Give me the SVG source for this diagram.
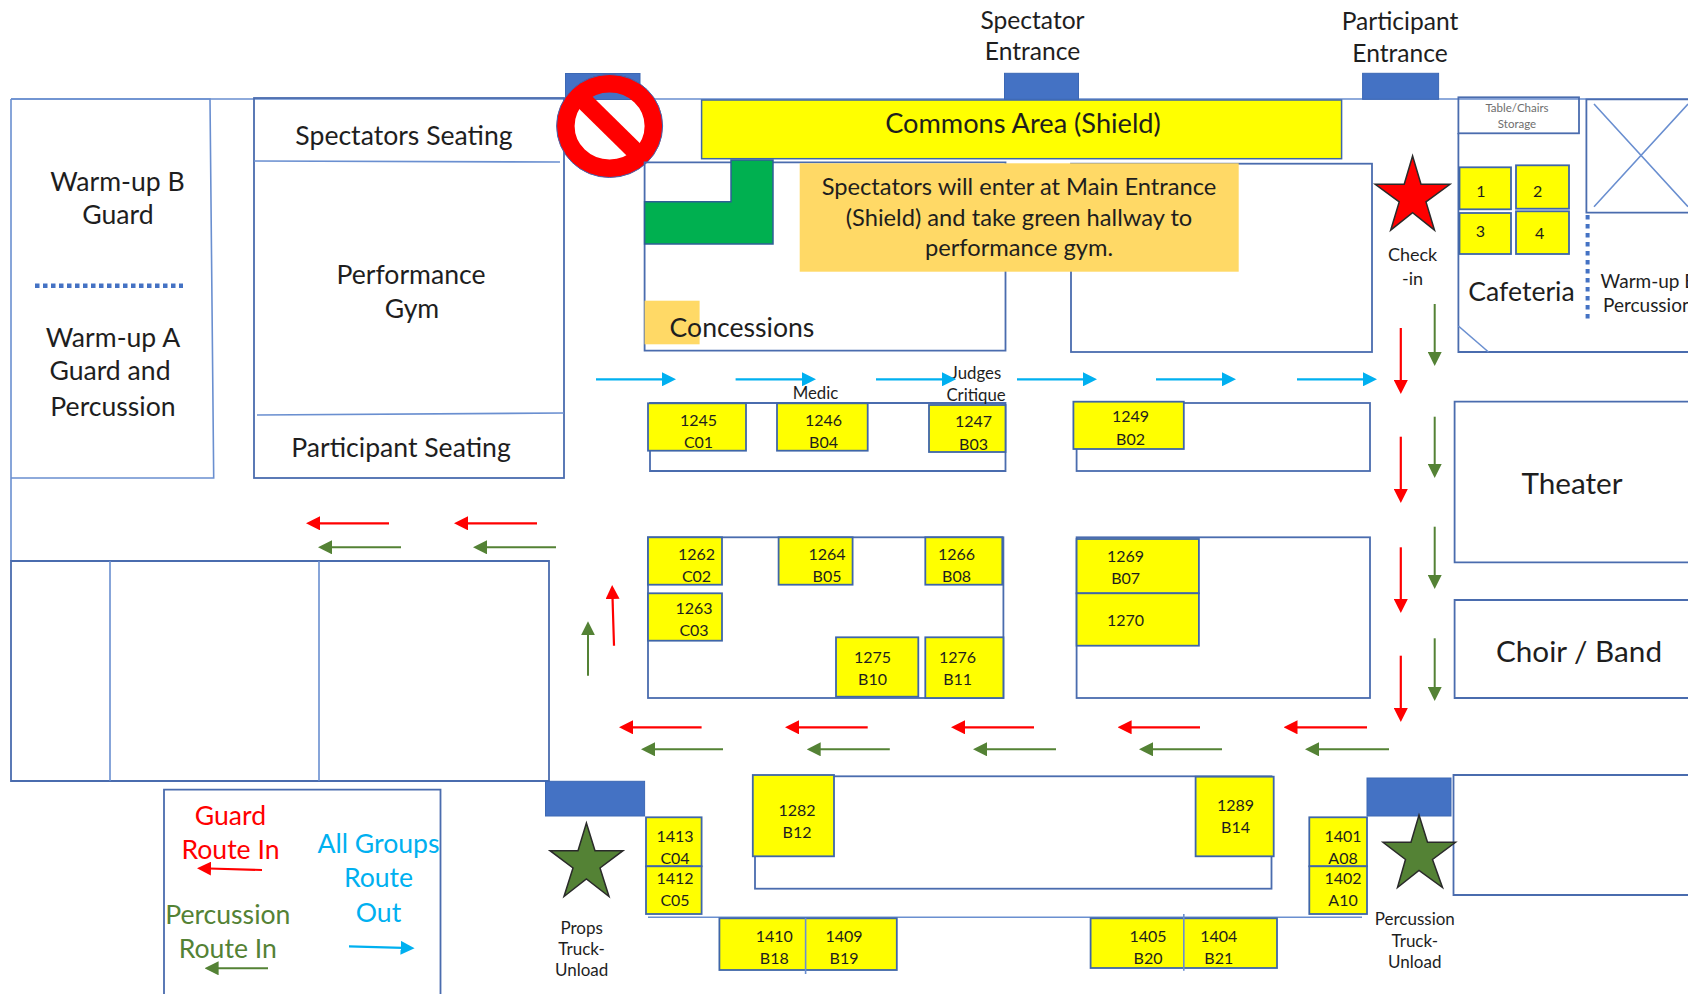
<svg xmlns="http://www.w3.org/2000/svg" width="1688" height="994" viewBox="0 0 1688 994">
<style>
text{font-family:Lato,"Liberation Sans",sans-serif;fill:#1e1e1e;text-anchor:middle}
.l{font-size:26.600px}.m{font-size:26.600px}.h{font-size:24.600px}.o{font-size:23.700px}.n{font-size:16px}.s{font-size:16.800px}.c{font-size:17px}.w{font-size:19px}.k{font-size:18px}.big{font-size:29.700px}.tiny{font-size:11.500px;fill:#6e6e6e}
.room{fill:none;stroke:#4a6cae;stroke-width:1.800}
.thin{fill:none;stroke:#6a8fd0;stroke-width:1.600}
.y{fill:#ffff00;stroke:#3f66a8;stroke-width:1.800}
.door{fill:#4472c4;stroke:#3c68b4;stroke-width:1}
.dot{stroke:#4472c4;fill:none}
.star{stroke:#2a2a2a;stroke-width:1.500;stroke-linejoin:miter}
.r{stroke:#ff0000;stroke-width:2.200;fill:none;marker-end:url(#hr)}
.g{stroke:#548235;stroke-width:2;fill:none;marker-end:url(#hg)}
.b{stroke:#00b0f0;stroke-width:2.200;fill:none;marker-end:url(#hb)}
</style>
<defs>
<marker id="hr" markerUnits="userSpaceOnUse" markerWidth="14" markerHeight="14" refX="2" refY="7" orient="auto"><path d="M0,0L14,7L0,14Z" fill="#ff0000"/></marker>
<marker id="hg" markerUnits="userSpaceOnUse" markerWidth="14" markerHeight="14" refX="2" refY="7" orient="auto"><path d="M0,0L14,7L0,14Z" fill="#548235"/></marker>
<marker id="hb" markerUnits="userSpaceOnUse" markerWidth="14" markerHeight="14" refX="2" refY="7" orient="auto"><path d="M0,0L14,7L0,14Z" fill="#00b0f0"/></marker>
</defs>
<rect width="1688" height="994" fill="#fff"/>

<g id="building-outline">
<path class="thin" d="M11,99H1458M11,99V561"/>
<path class="thin" d="M1458,99H1688"/>
<path class="room" d="M11,561H549V781H11Z"/>
<path class="thin" d="M110,561V781M319,561V781"/>
</g>

<g id="warmup-room">
<path class="thin" d="M11,99H210L213.700,478H11"/>
<text class="m" x="117.500" y="191">Warm-up B</text>
<text class="m" x="118" y="224">Guard</text>
<line class="dot" x1="35" y1="285.700" x2="183" y2="285.700" stroke-width="4.500" stroke-dasharray="4.500 3.500"/>
<text class="m" x="113" y="347">Warm-up A</text>
<text class="m" x="110" y="380">Guard and</text>
<text class="m" x="113" y="416">Percussion</text>
</g>

<g id="performance-gym">
<rect class="room" x="254" y="98" width="310" height="380"/>
<path class="thin" d="M254,161L560,162M257,415L564,413"/>
<text class="m" x="404" y="145">Spectators Seating</text>
<text class="m" x="411" y="284">Performance</text>
<text class="m" x="412" y="318">Gym</text>
<text class="m" x="401" y="457">Participant Seating</text>
</g>

<g id="no-entry-door">
<rect class="door" x="565.500" y="73.500" width="74.500" height="26"/>
<ellipse cx="609.600" cy="126" rx="44" ry="42.500" fill="none" stroke="#ff0000" stroke-width="18"/>
<ellipse cx="609.600" cy="126" rx="53" ry="51.500" fill="none" stroke="#3c68b4" stroke-width="1"/>
<line x1="579" y1="96" x2="640" y2="156" stroke="#ff0000" stroke-width="18"/>
</g>

<g id="concessions-hall">
<path class="room" d="M644.600,162.300H1005.500V350.700H644.600Z"/>
<path d="M731,160H773V244H644.600V201.700H731Z" fill="#00b050" stroke="#2f5f96" stroke-width="1.500"/>
<rect x="644.600" y="300.700" width="55" height="43.600" fill="#ffd966"/>
<text class="l" x="742" y="336.500">Concessions</text>
</g>

<g id="commons">
<rect x="701.600" y="100" width="640" height="58.700" fill="#ffff00" stroke="#3f66a8" stroke-width="1.500"/>
<text style="font-size:27.200px" x="1023" y="133">Commons Area (Shield)</text>
</g>

<g id="spectator-door">
<rect class="door" x="1004.500" y="73.300" width="74" height="26"/>
<text class="h" x="1032.500" y="28.500">Spectator</text>
<text class="h" x="1032.500" y="59.500">Entrance</text>
</g>
<g id="participant-door">
<rect class="door" x="1362.600" y="73.300" width="76" height="26"/>
<text class="h" x="1400" y="30">Participant</text>
<text class="h" x="1400" y="61.500">Entrance</text>
</g>

<g id="upper-right-room"><rect class="room" x="1071" y="163.700" width="301" height="188.300"/></g>

<g id="notice">
<rect x="799.700" y="163.300" width="439" height="108.400" fill="#ffd966"/>
<text class="o" x="1019" y="195">Spectators will enter at Main Entrance</text>
<text class="o" x="1019" y="225.500">(Shield) and take green hallway to</text>
<text class="o" x="1019" y="256">performance gym.</text>
</g>

<g id="check-in">
<polygon class="star" fill="#ff0000" points="1412.600,156 1421,184.300 1450,184.300 1426,201.900 1434.500,230.200 1412.600,212.700 1390.700,230.200 1399.200,201.900 1375.200,184.300 1404.200,184.300"/>
<text class="k" x="1412.600" y="261">Check</text>
<text class="k" x="1412.600" y="285">-in</text>
</g>

<g id="cafeteria">
<path class="room" d="M1458.400,133V352H1688"/>
<path class="thin" d="M1458.400,326L1488.500,352"/>
<rect class="room" x="1458.400" y="97.300" width="120.600" height="36"/>
<text class="tiny" x="1517" y="112">Table/Chairs</text>
<text class="tiny" x="1517" y="127.500">Storage</text>
<rect class="y" x="1459.500" y="167.300" width="51.500" height="42"/><text class="n" x="1481" y="197">1</text>
<rect class="y" x="1516" y="165.300" width="53" height="43.400"/><text class="n" x="1537.600" y="197">2</text>
<rect class="y" x="1459.500" y="213" width="51.500" height="41"/><text class="n" x="1480.500" y="237">3</text>
<rect class="y" x="1516" y="211.300" width="53" height="42.700"/><text class="n" x="1539.700" y="239">4</text>
<text class="l" x="1521.500" y="301">Cafeteria</text>
</g>

<g id="x-room">
<path class="room" d="M1688,212.700H1586.400V99.300H1688"/>
<path class="thin" d="M1594,104L1688,206.700M1594,206.700L1688,104"/>
<line class="dot" x1="1587.600" y1="215" x2="1587.600" y2="319.300" stroke-width="4" stroke-dasharray="4.500 4.500"/>
<text class="w" x="1600.600" y="288" style="text-anchor:start">Warm-up B</text>
<text class="w" x="1603" y="312" style="text-anchor:start">Percussion</text>
</g>

<g id="theater"><path class="room" d="M1688,401.700H1454.600V562.300H1688"/><text class="big" x="1572" y="494">Theater</text></g>
<g id="choir-band"><path class="room" d="M1688,600H1454.600V698H1688"/><text class="big" x="1579" y="662">Choir / Band</text></g>
<g id="lower-right-room"><path class="room" d="M1688,775H1453.500V895H1688"/></g>

<g id="row-1-left">
<path class="room" d="M650,403H1005.500V471H650Z"/>
<rect class="y" x="648" y="403.300" width="98" height="47.400"/><text class="n" x="698.500" y="426">1245</text><text class="n" x="698.500" y="448">C01</text>
<rect class="y" x="777" y="403.300" width="90.700" height="47.400"/><text class="n" x="823.500" y="426">1246</text><text class="n" x="823.500" y="448">B04</text>
<rect class="y" x="929" y="405" width="76.500" height="47"/><text class="n" x="973.500" y="427">1247</text><text class="n" x="973.500" y="449.500">B03</text>
<text class="s" x="815.500" y="399">Medic</text>
<text class="s" x="976" y="379">Judges</text>
<text class="s" x="976" y="401">Critique</text>
</g>

<g id="row-1-right">
<rect class="room" x="1076.600" y="403" width="293.400" height="68"/>
<rect class="y" x="1073.400" y="401.700" width="110.400" height="47.300"/><text class="n" x="1130.500" y="422">1249</text><text class="n" x="1130.500" y="444.500">B02</text>
</g>

<g id="row-2-left">
<rect class="room" x="648" y="537.300" width="355.400" height="160.700"/>
<rect class="y" x="648" y="537.300" width="74" height="47.400"/><text class="n" x="696.500" y="560">1262</text><text class="n" x="696.500" y="581.500">C02</text>
<rect class="y" x="778.600" y="537.300" width="74" height="47.400"/><text class="n" x="827" y="560">1264</text><text class="n" x="827" y="581.500">B05</text>
<rect class="y" x="925.300" y="537.300" width="77" height="47.400"/><text class="n" x="956.500" y="560">1266</text><text class="n" x="956.500" y="581.500">B08</text>
<rect class="y" x="648" y="593.300" width="74" height="47.400"/><text class="n" x="694" y="614">1263</text><text class="n" x="694" y="636">C03</text>
<rect class="y" x="836" y="637.300" width="82.300" height="59.400"/><text class="n" x="872.500" y="662.500">1275</text><text class="n" x="872.500" y="685">B10</text>
<rect class="y" x="925.300" y="637.300" width="78.100" height="60.700"/><text class="n" x="957.600" y="662.500">1276</text><text class="n" x="957.600" y="685">B11</text>
</g>

<g id="row-2-right">
<rect class="room" x="1076.600" y="537.300" width="293.400" height="160.700"/>
<rect class="y" x="1076.600" y="539" width="122.300" height="54.300"/><text class="n" x="1125.600" y="561.500">1269</text><text class="n" x="1125.600" y="583.500">B07</text>
<rect class="y" x="1076.600" y="593.300" width="122.300" height="52.400"/><text class="n" x="1125.600" y="626">1270</text>
</g>

<g id="row-3">
<rect class="room" x="755" y="776.300" width="516.500" height="112.400"/>
<rect class="y" x="752.800" y="775" width="81.200" height="81.300"/><text class="n" x="797" y="816">1282</text><text class="n" x="797" y="838">B12</text>
<rect class="y" x="1195.600" y="776.700" width="78.100" height="79.600"/><text class="n" x="1235.500" y="811">1289</text><text class="n" x="1235.500" y="833">B14</text>
</g>

<g id="row-4">
<line class="thin" x1="648" y1="917.300" x2="1362" y2="917.300"/>
<rect class="y" x="646" y="817.300" width="55.600" height="49"/><text class="n" x="675" y="841.500">1413</text><text class="n" x="675" y="864">C04</text>
<rect class="y" x="646" y="866.300" width="55.600" height="47.700"/><text class="n" x="675" y="884">1412</text><text class="n" x="675" y="906">C05</text>
<rect class="y" x="719.400" y="918.300" width="177.400" height="51.700"/>
<line class="thin" x1="805.600" y1="918" x2="805.600" y2="974"/>
<text class="n" x="774.300" y="941.500">1410</text><text class="n" x="774.300" y="963.500">B18</text>
<text class="n" x="844" y="941.500">1409</text><text class="n" x="844" y="963.500">B19</text>
<rect class="y" x="1090.600" y="918.300" width="186.400" height="49.700"/>
<line class="thin" x1="1183.800" y1="914" x2="1183.800" y2="970.700"/>
<text class="n" x="1148" y="941.500">1405</text><text class="n" x="1148" y="963.500">B20</text>
<text class="n" x="1218.800" y="941.500">1404</text><text class="n" x="1218.800" y="963.500">B21</text>
<rect class="y" x="1309.300" y="817.300" width="57.700" height="49"/><text class="n" x="1343" y="841.500">1401</text><text class="n" x="1343" y="864">A08</text>
<rect class="y" x="1309.300" y="866.300" width="57.700" height="47.700"/><text class="n" x="1343" y="884">1402</text><text class="n" x="1343" y="906">A10</text>
</g>

<g id="props-unload">
<rect class="door" x="545.500" y="781.300" width="99.100" height="34.700"/>
<polygon class="star" fill="#548235" points="586.400,823 595,850.700 623,850.700 600,868 609,896.500 586.400,879 564,896.500 573,868 550,850.700 578,850.700"/>
<text class="c" x="581.600" y="933.500">Props</text>
<text class="c" x="581.600" y="955">Truck-</text>
<text class="c" x="581.600" y="976">Unload</text>
</g>

<g id="percussion-unload">
<rect class="door" x="1367" y="778" width="84" height="38"/>
<polygon class="star" fill="#548235" points="1419,815 1427.500,842.300 1455.500,842.300 1432.500,859.500 1442.500,887.500 1419,870.500 1397.500,887.500 1405.500,859.500 1383,842.300 1411,842.300"/>
<text class="c" x="1414.800" y="925">Percussion</text>
<text class="c" x="1414.800" y="946.700">Truck-</text>
<text class="c" x="1414.800" y="967.500">Unload</text>
</g>

<g id="legend">
<path class="room" d="M164,994V789.700H440.500V994"/>
<text class="m" style="fill:#ff0000" x="230.500" y="825">Guard</text>
<text class="m" style="fill:#ff0000" x="230.500" y="859">Route In</text>
<text class="m" style="fill:#548235" x="227.800" y="924">Percussion</text>
<text class="m" style="fill:#548235" x="227.800" y="958">Route In</text>
<text class="m" style="fill:#00b0f0" x="378.500" y="852.500">All Groups</text>
<text class="m" style="fill:#00b0f0" x="378.500" y="886.500">Route</text>
<text class="m" style="fill:#00b0f0" x="378.500" y="921.500">Out</text>
</g>

<g id="connectors">
<line class="b" x1="596" y1="379.300" x2="664" y2="379.300"/>
<line class="b" x1="735.600" y1="379.300" x2="804" y2="379.300"/>
<line class="b" x1="876" y1="379.300" x2="944" y2="379.300"/>
<line class="b" x1="1017" y1="379.300" x2="1085" y2="379.300"/>
<line class="b" x1="1156" y1="379.300" x2="1224" y2="379.300"/>
<line class="b" x1="1297" y1="379.300" x2="1365" y2="379.300"/>
<line class="r" x1="1400.800" y1="328" x2="1400.800" y2="382"/>
<line class="r" x1="1400.800" y1="436.700" x2="1400.800" y2="491"/>
<line class="r" x1="1400.800" y1="547.300" x2="1400.800" y2="601"/>
<line class="r" x1="1400.800" y1="655.700" x2="1400.800" y2="710"/>
<line class="g" x1="1434.700" y1="304" x2="1434.700" y2="354"/>
<line class="g" x1="1434.700" y1="416.700" x2="1434.700" y2="466"/>
<line class="g" x1="1434.700" y1="526.700" x2="1434.700" y2="577"/>
<line class="g" x1="1434.700" y1="638.300" x2="1434.700" y2="689"/>
<line class="r" x1="389" y1="523.300" x2="318" y2="523.300"/>
<line class="r" x1="537" y1="523.300" x2="466" y2="523.300"/>
<line class="g" x1="401" y1="547.300" x2="330" y2="547.300"/>
<line class="g" x1="556" y1="547.300" x2="485" y2="547.300"/>
<line class="r" x1="701.600" y1="727.300" x2="631" y2="727.300"/>
<line class="r" x1="867.700" y1="727.300" x2="797" y2="727.300"/>
<line class="r" x1="1034" y1="727.300" x2="963" y2="727.300"/>
<line class="r" x1="1200" y1="727.300" x2="1129.600" y2="727.300"/>
<line class="r" x1="1367" y1="727.300" x2="1295.500" y2="727.300"/>
<line class="g" x1="723" y1="749.300" x2="653" y2="749.300"/>
<line class="g" x1="889.800" y1="749.300" x2="818.700" y2="749.300"/>
<line class="g" x1="1056" y1="749.300" x2="985" y2="749.300"/>
<line class="g" x1="1222" y1="749.300" x2="1151" y2="749.300"/>
<line class="g" x1="1389" y1="749.300" x2="1317" y2="749.300"/>
<line class="r" x1="614" y1="645.700" x2="612.500" y2="597"/>
<line class="g" x1="588" y1="675.700" x2="588" y2="633.300"/>
<line class="r" x1="262" y1="870" x2="209" y2="868.500"/>
<line class="g" x1="268" y1="968.300" x2="216.600" y2="968.300"/>
<line class="b" x1="349" y1="946.300" x2="402.600" y2="947.800"/>
</g>
</svg>
